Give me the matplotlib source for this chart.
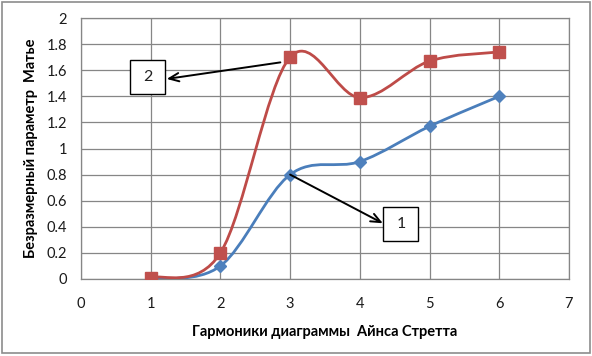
import matplotlib.pyplot as plt
import numpy as np
from matplotlib.path import Path
from matplotlib.patches import PathPatch, Rectangle

plt.rcParams['font.family'] = ['Lato', 'DejaVu Sans']

# data
harmonics = [1, 2, 3, 4, 5, 6]
series1 = [0.0, 0.1, 0.8, 0.9, 1.17, 1.4]
series2 = [0.01, 0.2, 1.7, 1.39, 1.67, 1.74]

xticks = [0, 1, 2, 3, 4, 5, 6, 7]
yticks = [0, 0.2, 0.4, 0.6, 0.8, 1, 1.2, 1.4, 1.6, 1.8, 2]

blue_line, blue_mark = '#4A7EBB', '#4F81BD'
red_line, red_mark = '#BE4B48', '#C0504D'
grid_c = '#868686'


def smooth_path(x, y):
    # Excel-style smoothed line: cubic Bezier segments through the points
    p = np.column_stack([x, y]).astype(float)
    ext = np.vstack([p[0], p, p[-1]])
    verts = [p[0]]
    codes = [Path.MOVETO]
    for i in range(len(p) - 1):
        p0, p1, p2, p3 = ext[i], ext[i + 1], ext[i + 2], ext[i + 3]
        c1 = p1 + (p2 - p0) / 6.0
        c2 = p2 - (p3 - p1) / 6.0
        verts += [c1, c2, p2]
        codes += [Path.CURVE4] * 3
    return Path(verts, codes)


fig = plt.figure(figsize=(5.92, 3.56), dpi=100)
ax = fig.add_axes([0.1368, 0.2163, 0.8243, 0.7331])

ax.set_xlim(0, 7)
ax.set_ylim(0, 2)
ax.set_xticks(xticks)
ax.set_yticks(yticks)
ax.set_xticklabels([str(t) for t in xticks])
ax.set_yticklabels([('%g' % t) for t in yticks])
ax.grid(True, color=grid_c, lw=0.9)
ax.set_axisbelow(True)
for s in ax.spines.values():
    s.set_color(grid_c)
    s.set_linewidth(0.9)
ax.tick_params(length=0, labelsize=10.5, labelcolor='#1a1a1a')
ax.tick_params(axis='x', pad=13)
ax.tick_params(axis='y', pad=10)

ax.add_patch(PathPatch(smooth_path(harmonics, series1), fill=False,
                       ec=blue_line, lw=2.0, zorder=3))
ax.add_patch(PathPatch(smooth_path(harmonics, series2), fill=False,
                       ec=red_line, lw=2.0, zorder=3))
ax.plot(harmonics, series1, ls='none', marker='D', ms=6, color=blue_mark, zorder=4)
ax.plot(harmonics, series2, ls='none', marker='s', ms=8.5, color=red_mark, zorder=5)

# callout boxes with arrows
box_w, box_h = 0.5, 0.26
for label, (bx, by), tip, start in [
        ('2', (0.954, 1.548), (1.23, 1.533), (2.86, 1.66)),
        ('1', (4.588, 0.42), (4.33, 0.427), (3.0, 0.8))]:
    ax.add_patch(Rectangle((bx - box_w / 2, by - box_h / 2), box_w, box_h,
                           fc='white', ec='black', lw=1.0, zorder=6))
    ax.text(bx, by, label, ha='center', va='center', fontsize=11.5,
            color='#222222', zorder=7)
    ax.annotate('', xy=tip, xytext=start, zorder=6,
                arrowprops=dict(arrowstyle='->,head_length=0.7,head_width=0.3',
                                color='black', lw=1.4, shrinkA=0, shrinkB=0))

ax.set_xlabel('Гармоники диаграммы  Айнса Стретта', fontsize=10.5,
              fontweight='bold', labelpad=10)
ax.set_ylabel('Безразмерный параметр  Матье', fontsize=10.5,
              fontweight='bold', labelpad=6)

fig.patches.append(Rectangle((0.003, 0.008), 0.994, 0.986, transform=fig.transFigure,
                             fill=False, ec='#8c8c8c', lw=1.2))

fig.savefig('out.png', dpi=100)
